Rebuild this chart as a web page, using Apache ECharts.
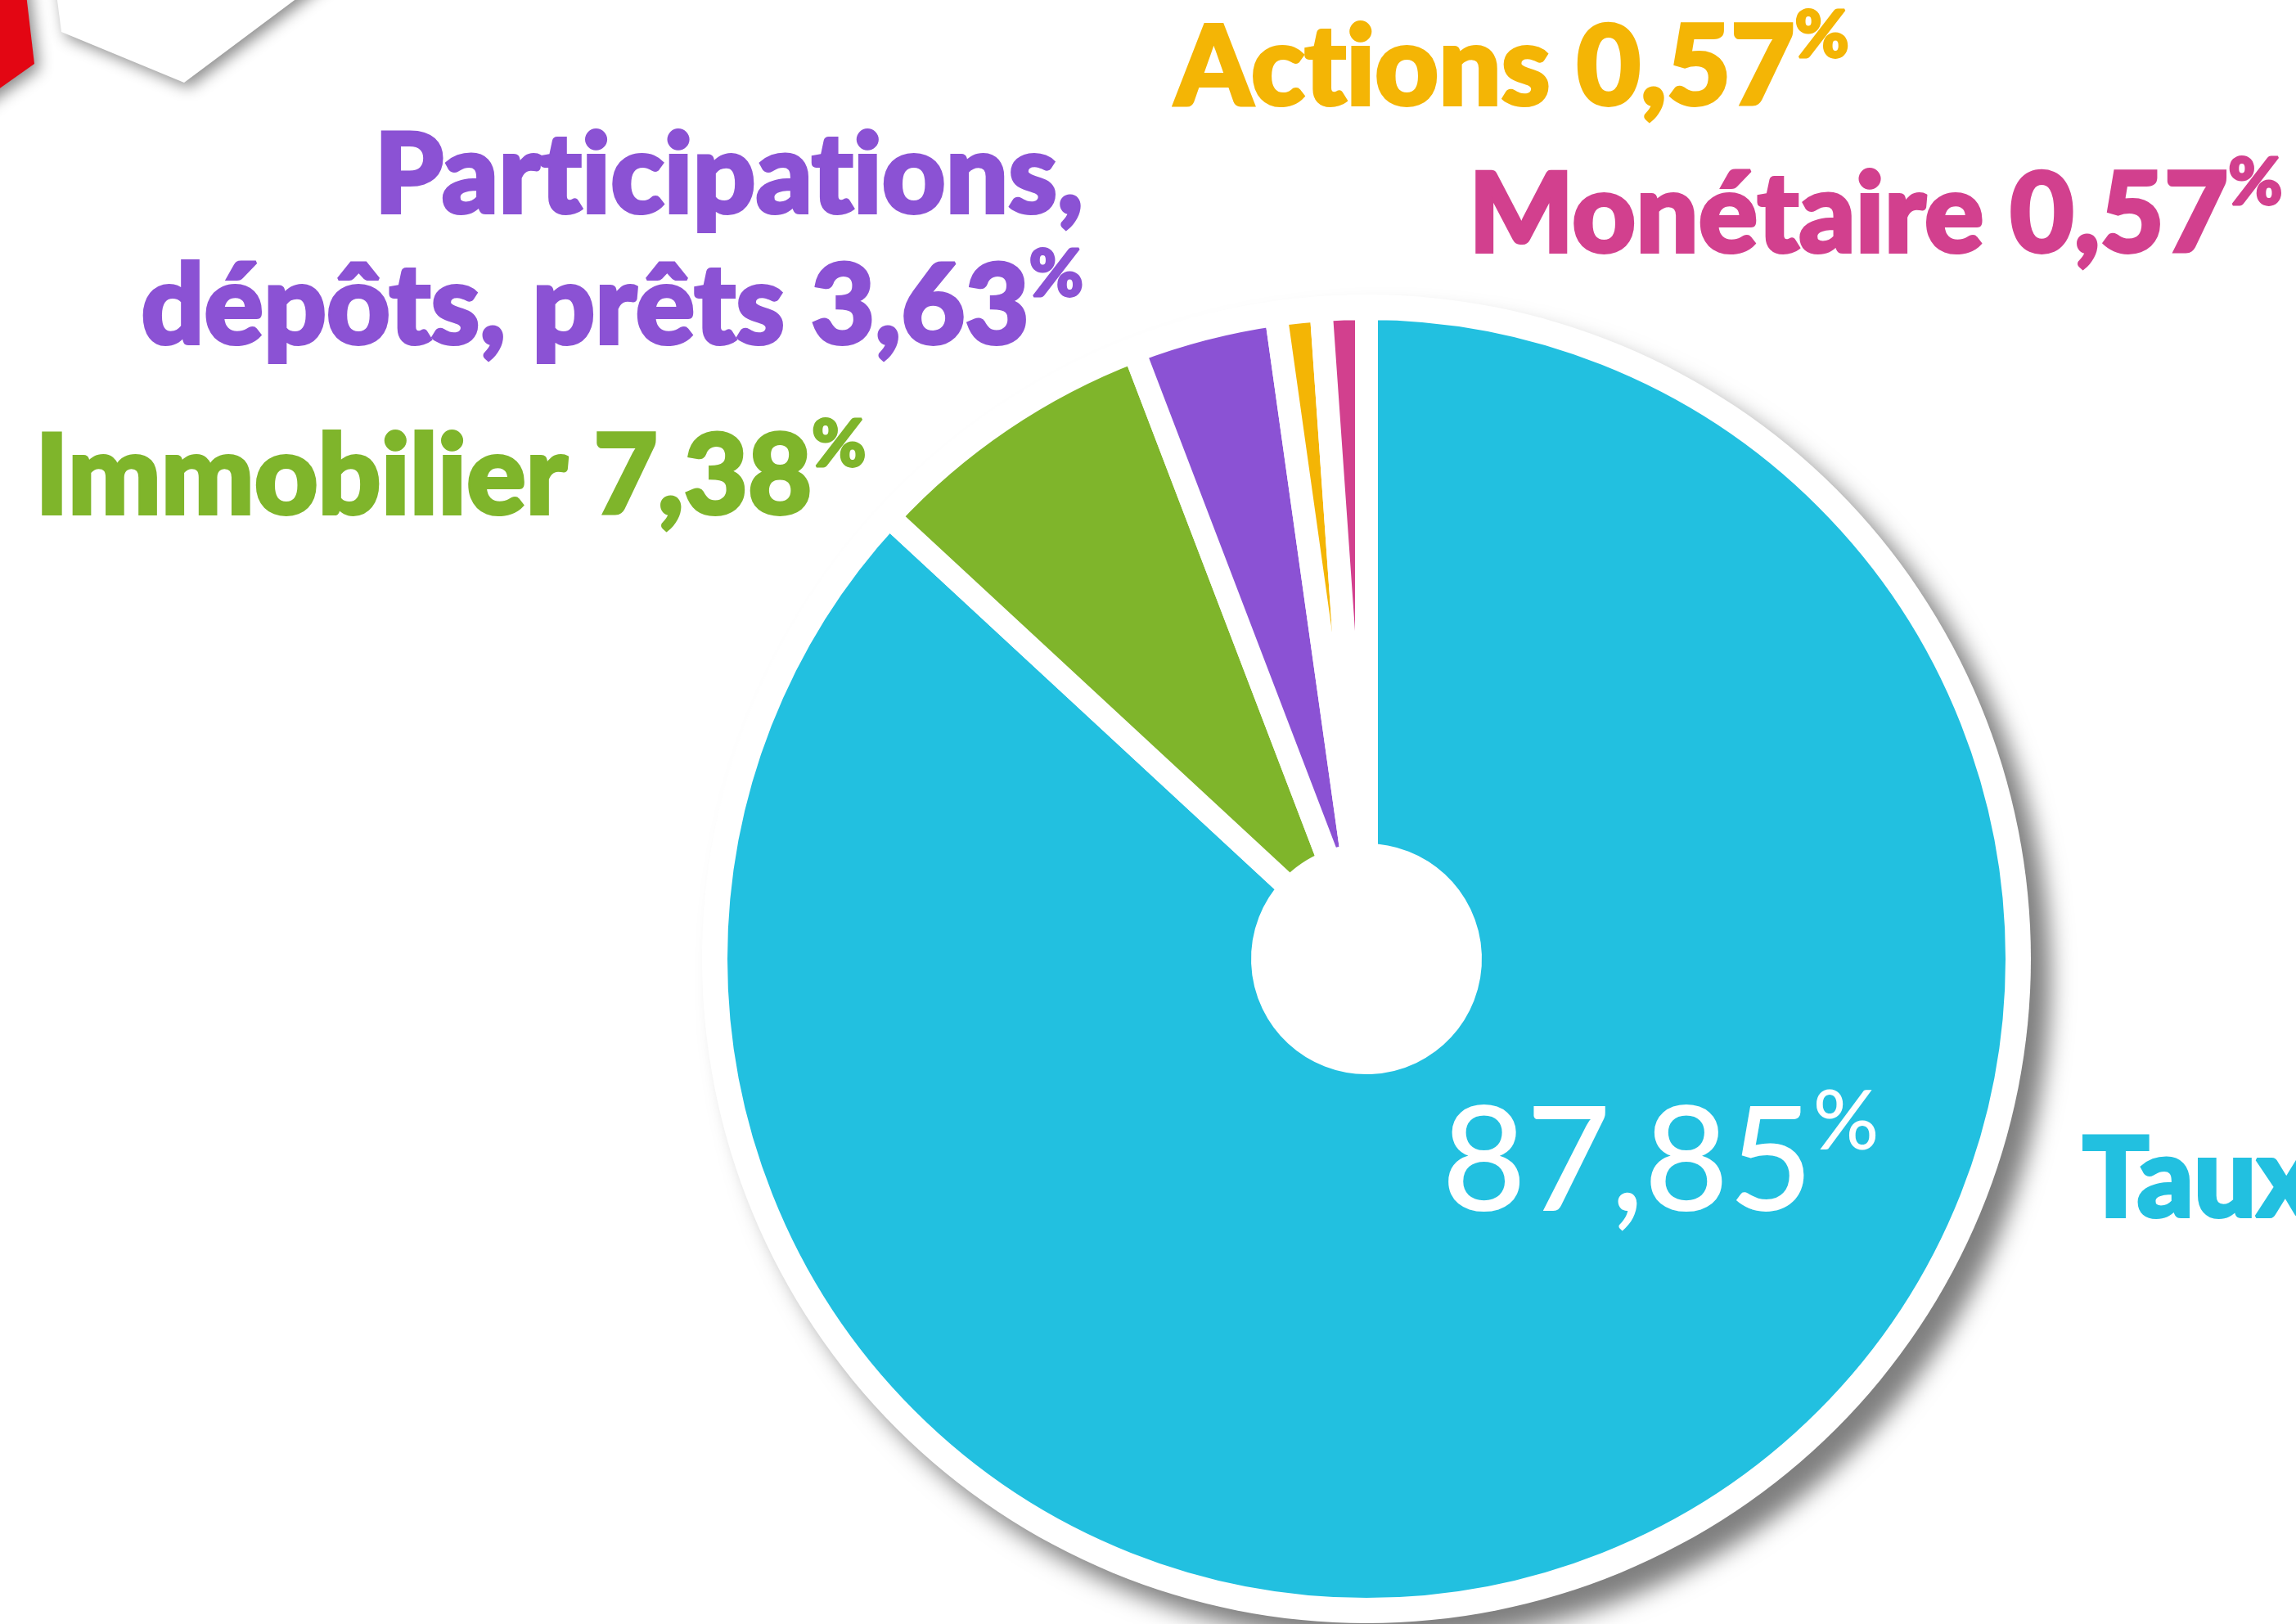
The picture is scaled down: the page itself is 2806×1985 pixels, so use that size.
<!DOCTYPE html>
<html>
<head>
<meta charset="utf-8">
<script src="https://cdn.jsdelivr.net/npm/echarts@6/dist/echarts.min.js"></script>
<style>
  html, body { margin: 0; padding: 0; background: #fff; }
  #chart { width: 2806px; height: 1985px; }
</style>
</head>
<body>
<div id="chart"></div>
<script>
// données du graphique
var categories = ['Taux', 'Immobilier', 'Participations, dépôts, prêts', 'Actions', 'Monétaire'];
var shares = [87.85, 7.38, 3.63, 0.57, 0.57];
var colors = ['#22C0E0', '#7FB52B', '#8B52D4', '#F4B505', '#D2408E'];

// ancrage des étiquettes : [x, ligne de base, alignement]
var labelAnchors = [
  [2545, 1483, 'left'],
  [43, 624, 'left'],
  [1324, 416, 'right'],
  [1436, 124, 'left'],
  [1795, 304, 'left']
];
var valueAnchor = [1762, 1478];

var CX = 1670, CY = 1172;

function fmt(v) {
  return v.toFixed(2).replace('.', ',');
}

// pas de ligature "ti"
function noLig(s) {
  return s.replace(/ti/g, 't\u200Ci').replace(/fi/g, 'f\u200Ci');
}

function richFor(color) {
  return {
    t: { color: color, fontFamily: 'Lato', fontWeight: 900, fontSize: 135, lineHeight: 160,
         textBorderColor: color, textBorderWidth: 4 },
    p: { color: color, fontFamily: 'Lato', fontWeight: 900, fontSize: 80, lineHeight: 125, verticalAlign: 'top',
         textBorderColor: color, textBorderWidth: 3 }
  };
}

var myChart = echarts.init(document.getElementById('chart'));

var mainData = categories.map(function (name, i) {
  return {
    name: name,
    value: shares[i],
    itemStyle: { color: colors[i] },
    label: { rich: richFor(colors[i]) }
  };
});

var option = {
  animation: false,
  backgroundColor: '#fff',
  graphic: [
    // décor en haut à gauche
    {
      type: 'polygon', z: 0,
      shape: { points: [[-100, -100], [21, -100], [42, 78], [-100, 179]] },
      style: { fill: '#E30613', shadowBlur: 18, shadowColor: 'rgba(0,0,0,0.45)', shadowOffsetX: 6, shadowOffsetY: 6 }
    },
    {
      type: 'polygon', z: 0,
      shape: { points: [[57, -100], [75, 39], [225, 101], [494, -100]] },
      style: { fill: '#fff', shadowBlur: 18, shadowColor: 'rgba(0,0,0,0.45)', shadowOffsetX: 6, shadowOffsetY: 6 }
    },
    // disque blanc ombré sous le camembert
    {
      type: 'circle', z: 0,
      shape: { cx: CX, cy: CY, r: 812 },
      style: { fill: '#fff', shadowBlur: 28, shadowColor: 'rgba(0,0,0,0.5)', shadowOffsetX: 24, shadowOffsetY: 24 }
    }
  ],
  series: [
    {
      type: 'pie',
      center: [CX, CY],
      radius: [127, 795],
      startAngle: 90,
      clockwise: true,
      minAngle: 4,
      avoidLabelOverlap: false,
      silent: true,
      itemStyle: { borderColor: '#fff', borderWidth: 28 },
      label: {
        show: true,
        position: 'outside',
        formatter: function (p) {
          if (p.dataIndex === 0) return '{t|' + p.name + '}';
          var name = noLig(p.name).replace(', d', ',\nd');
          var lines = name.split('\n');
          var last = lines.pop();
          var head = lines.map(function (l) { return '{t|' + l + '}'; });
          head.push('{t|' + last + ' ' + fmt(p.value) + '}{p|%}');
          return head.join('\n');
        }
      },
      labelLine: { show: false },
      labelLayout: function (p) {
        var a = labelAnchors[p.dataIndex];
        return { x: a[0], y: a[1] + 40, align: a[2], verticalAlign: 'bottom' };
      },
      data: mainData
    },
    {
      type: 'pie',
      center: [CX, CY],
      radius: [127, 795],
      startAngle: 90,
      clockwise: true,
      minAngle: 4,
      silent: true,
      itemStyle: { color: 'rgba(0,0,0,0)', borderWidth: 0 },
      label: {
        show: true,
        position: 'inside',
        formatter: function (p) {
          return p.dataIndex === 0 ? '{v|' + fmt(p.value) + '}{q|%}' : '';
        },
        rich: {
          v: { color: '#fff', fontFamily: 'Lato', fontWeight: 500, fontSize: 178, lineHeight: 200 },
          q: { color: '#fff', fontFamily: 'Lato', fontWeight: 500, fontSize: 100, lineHeight: 140, verticalAlign: 'top' }
        }
      },
      labelLine: { show: false },
      labelLayout: function (p) {
        if (p.dataIndex !== 0) return {};
        return { x: valueAnchor[0], y: valueAnchor[1] + 45, align: 'left', verticalAlign: 'bottom' };
      },
      data: categories.map(function (name, i) { return { name: name, value: shares[i] }; })
    }
  ]
};

myChart.setOption(option, true);
</script>
</body>
</html>
